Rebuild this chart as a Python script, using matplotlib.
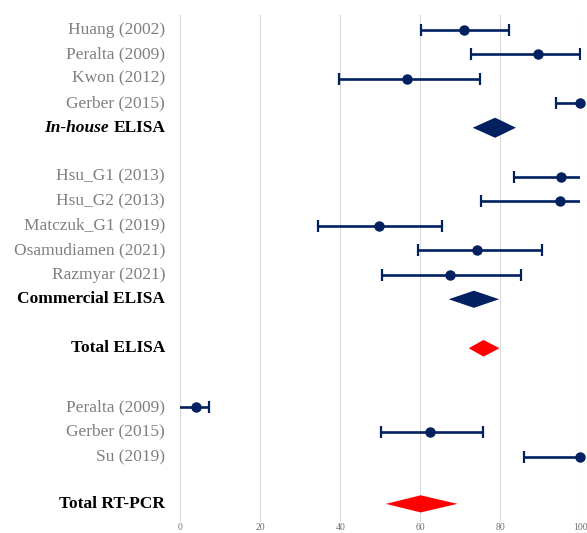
import matplotlib
matplotlib.use('Agg')
import matplotlib.pyplot as plt
import numpy as np

plt.rcParams['font.family'] = ['Liberation Serif', 'DejaVu Serif']

# individual studies
studies = ['Huang (2002)', 'Peralta (2009)', 'Kwon (2012)', 'Gerber (2015)',
           'Hsu_G1 (2013)', 'Hsu_G2 (2013)', 'Matczuk_G1 (2019)', 'Osamudiamen (2021)', 'Razmyar (2021)',
           'Peralta (2009)', 'Gerber (2015)', 'Su (2019)']
study_rows = [0, 1, 2, 3,
              6, 7, 8, 9, 10,
              15.4, 16.4, 17.45]
est = [71.0, 89.4, 56.6, 100.0,
       95.1, 94.8, 49.6, 74.2, 67.4,
       3.9, 62.4, 100.0]
lo = [60.1, 72.8, 39.6, 94.0,
      83.5, 75.3, 34.5, 59.5, 50.5,
      -1.0, 50.2, 85.8]
hi = [82.2, 99.8, 74.9, 106.0,
      106.7, 114.3, 65.5, 90.5, 85.1,
      7.1, 75.7, 114.2]

# pooled estimates
pooled = ['In-house ELISA', 'Commercial ELISA', 'Total ELISA', 'Total RT-PCR']
pooled_rows = [4, 11, 13, 19.35]
pooled_est = [78.7, 73.4, 75.8, 60.1]
pooled_lo = [73.1, 67.1, 72.1, 51.4]
pooled_hi = [83.9, 79.7, 79.8, 69.3]

navy = '#002060'
red = '#FF0000'
pooled_colors = [navy, navy, red, red]
diamond_h = [0.41, 0.35, 0.34, 0.35]

fig = plt.figure(figsize=(5.87, 5.33), dpi=100)
ax = fig.add_axes([180.3 / 587, 11 / 533, 400 / 587, 507 / 533])
ylim = (20.09, -0.6)

est_a = np.array(est)
err = [est_a - np.array(lo), np.array(hi) - est_a]
eb = ax.errorbar(est, study_rows, xerr=err, fmt='o', color=navy, ms=6.5,
                 elinewidth=1.9, capsize=4.5, capthick=1.6, zorder=3)
eb[0].set_clip_on(False)

for r, e, l, h, c, dh in zip(pooled_rows, pooled_est, pooled_lo, pooled_hi, pooled_colors, diamond_h):
    ax.fill([l, e, h, e], [r, r - dh, r, r + dh], color=c, lw=0, zorder=3)

ax.set_xlim(0, 100)
ax.set_ylim(*ylim)
ax.set_xticks(range(0, 101, 20))
ax.grid(axis='x', color='#D9D9D9', lw=0.8)
ax.set_axisbelow(True)
for s in ax.spines.values():
    s.set_visible(False)
ax.set_yticks([])
ax.tick_params(axis='x', length=0, pad=0.5, labelsize=7, labelcolor='#6F6F6F')

tr = ax.get_yaxis_transform()
lx = -0.038
fs = 12.5
for name, r in zip(studies, study_rows):
    ax.text(lx, r, name, transform=tr, ha='right', va='center', fontsize=fs, color='#7F7F7F')

for name, r in zip(pooled, pooled_rows):
    if name.startswith('In-house'):
        t = ax.text(lx, r, 'ELISA', transform=tr, ha='right', va='center',
                    fontsize=fs, fontweight='bold', color='black')
        ax.annotate('In-house ', xy=(0, 0), xycoords=t, ha='right', va='bottom',
                    fontsize=fs, fontweight='bold', fontstyle='italic', color='black')
    else:
        ax.text(lx, r, name, transform=tr, ha='right', va='center',
                fontsize=fs, fontweight='bold', color='black')

fig.savefig('out.png', dpi=100)
